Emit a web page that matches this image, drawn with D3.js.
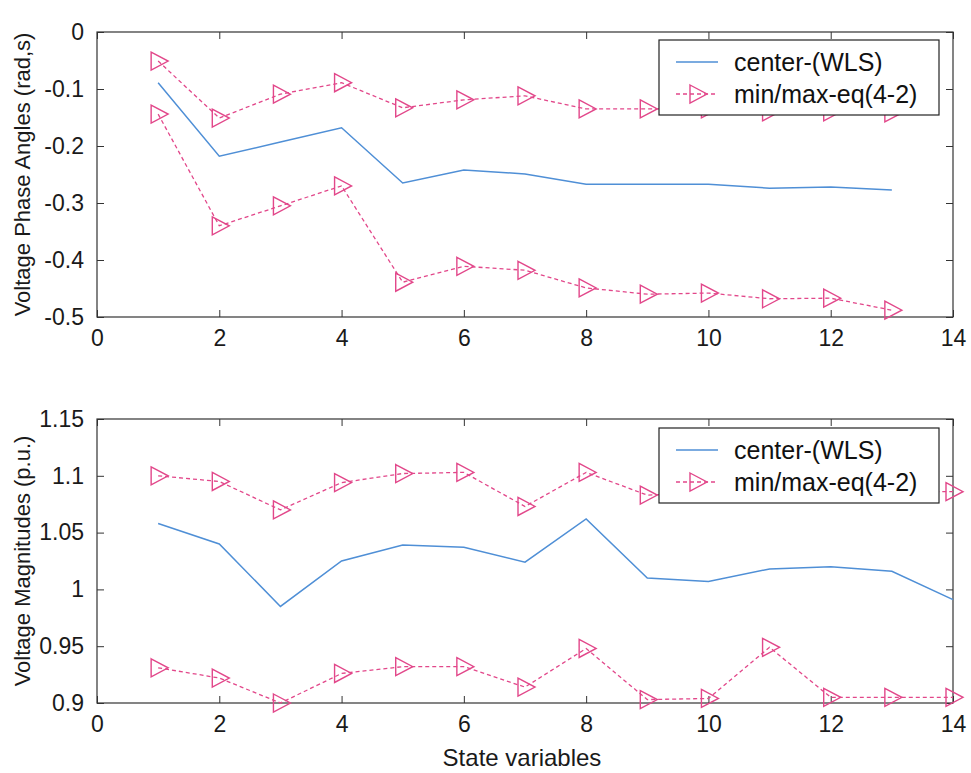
<!DOCTYPE html>
<html>
<head>
<meta charset="utf-8">
<script src="https://cdn.jsdelivr.net/npm/d3@7"></script>
<style>
  body { margin: 0; background: #fff; }
  svg { font-family: 'Liberation Sans', Arial, sans-serif; }
  .axis text { font-size: 23px; fill: #1a1a1a; }
  .axis line { stroke: #333; }
  .axis path { display: none; }
</style>
</head>
<body>
<div id="chart"></div>
<script>
'use strict'

// Top panel: phase angles (states 1..13)
const phaseX = [1, 2, 3, 4, 5, 6, 7, 8, 9, 10, 11, 12, 13]
const phaseCenter = [-0.089, -0.218, -0.193, -0.168, -0.265, -0.242, -0.249, -0.267, -0.267, -0.267, -0.274, -0.272, -0.277]
const phaseUpper = [-0.051, -0.151, -0.109, -0.089, -0.133, -0.119, -0.112, -0.135, -0.135, -0.135, -0.14, -0.14, -0.142]
const phaseLower = [-0.144, -0.34, -0.305, -0.27, -0.439, -0.411, -0.418, -0.449, -0.46, -0.458, -0.468, -0.467, -0.488]

// Bottom panel: magnitudes (states 1..14)
const magX = [1, 2, 3, 4, 5, 6, 7, 8, 9, 10, 11, 12, 13, 14]
const magCenter = [1.058, 1.04, 0.985, 1.025, 1.039, 1.037, 1.024, 1.062, 1.01, 1.007, 1.018, 1.02, 1.016, 0.991]
const magUpper = [1.1, 1.095, 1.07, 1.094, 1.102, 1.103, 1.073, 1.103, 1.083, 1.085, 1.085, 1.086, 1.086, 1.086]
const magLower = [0.931, 0.922, 0.9, 0.926, 0.932, 0.932, 0.914, 0.948, 0.903, 0.904, 0.949, 0.905, 0.905, 0.905]

const xTicks = [0, 2, 4, 6, 8, 10, 12, 14]
const phaseTicks = [0, -0.1, -0.2, -0.3, -0.4, -0.5]
const magTicks = [0.9, 0.95, 1, 1.05, 1.1, 1.15]
const legendLabels = ['center-(WLS)', 'min/max-eq(4-2)']

const blue = '#4f8fd6'
const pink = '#e2478a'

const width = 971
const height = 773

const svg = d3.select('#chart').append('svg')
  .attr('width', width)
  .attr('height', height)

function panel(opts) {
  const { top, bottom, left, right, xs, center, upper, lower, yDomain, yTicks, yFormat, yLabel, legendTop } = opts

  const xScale = d3.scaleLinear().domain([0, 14]).range([left, right])
  const yScale = d3.scaleLinear().domain(yDomain).range([bottom, top])

  const g = svg.append('g')

  // axes with inward ticks on all four sides
  g.append('g').attr('class', 'axis')
    .attr('transform', `translate(0,${bottom})`)
    .call(d3.axisBottom(xScale).tickValues(xTicks).tickSizeInner(-7).tickSizeOuter(0).tickPadding(13))
  g.append('g').attr('class', 'axis')
    .attr('transform', `translate(0,${top})`)
    .call(d3.axisTop(xScale).tickValues(xTicks).tickSizeInner(-7).tickSizeOuter(0).tickFormat(''))
  g.append('g').attr('class', 'axis')
    .attr('transform', `translate(${left},0)`)
    .call(d3.axisLeft(yScale).tickValues(yTicks).tickSizeInner(-7).tickSizeOuter(0).tickPadding(13).tickFormat(yFormat))
  g.append('g').attr('class', 'axis')
    .attr('transform', `translate(${right},0)`)
    .call(d3.axisRight(yScale).tickValues(yTicks).tickSizeInner(-7).tickSizeOuter(0).tickFormat(''))

  g.append('rect')
    .attr('x', left).attr('y', top)
    .attr('width', right - left).attr('height', bottom - top)
    .attr('fill', 'none').attr('stroke', '#333').attr('stroke-width', 1.2)

  const line = d3.line().x((d) => xScale(d[0])).y((d) => yScale(d[1]))

  g.append('path')
    .datum(xs.map((x, i) => [x, center[i]]))
    .attr('d', line)
    .attr('fill', 'none').attr('stroke', blue).attr('stroke-width', 1.5)

  const tri = 'M-8,-9L9,0L-8,9Z'
  ;[upper, lower].forEach((series) => {
    const pts = xs.map((x, i) => [x, series[i]])
    g.append('path')
      .datum(pts)
      .attr('d', line)
      .attr('fill', 'none').attr('stroke', pink).attr('stroke-width', 1.3)
      .attr('stroke-dasharray', '4,3')
    g.selectAll(null)
      .data(pts)
      .join('path')
      .attr('d', tri)
      .attr('transform', (d) => `translate(${xScale(d[0]) + 1},${yScale(d[1])})`)
      .attr('fill', 'none').attr('stroke', pink).attr('stroke-width', 1.4)
  })

  // y label
  g.append('text')
    .attr('transform', `translate(30,${(top + bottom) / 2}) rotate(-90)`)
    .attr('text-anchor', 'middle')
    .attr('font-size', 22)
    .attr('fill', '#1a1a1a')
    .text(yLabel)

  // legend
  const lg = g.append('g').attr('transform', `translate(659,${legendTop})`)
  lg.append('rect')
    .attr('width', 280).attr('height', 75)
    .attr('fill', '#fff').attr('stroke', '#222').attr('stroke-width', 1.2)
  lg.append('line')
    .attr('x1', 17).attr('x2', 59).attr('y1', 22).attr('y2', 22)
    .attr('stroke', blue).attr('stroke-width', 1.5)
  lg.append('line')
    .attr('x1', 17).attr('x2', 59).attr('y1', 54).attr('y2', 54)
    .attr('stroke', pink).attr('stroke-width', 1.3).attr('stroke-dasharray', '4,3')
  lg.append('path')
    .attr('d', tri)
    .attr('transform', 'translate(39,54)')
    .attr('fill', 'none').attr('stroke', pink).attr('stroke-width', 1.4)
  lg.selectAll('text.leg')
    .data(legendLabels)
    .join('text')
    .attr('class', 'leg')
    .attr('x', 75)
    .attr('y', (d, i) => 22 + i * 32)
    .attr('dy', '0.35em')
    .attr('font-size', 25)
    .attr('fill', '#111')
    .text((d) => d)
}

panel({
  top: 32, bottom: 317, left: 97, right: 953,
  xs: phaseX, center: phaseCenter, upper: phaseUpper, lower: phaseLower,
  yDomain: [-0.5, 0], yTicks: phaseTicks, yFormat: (d) => (d === 0 ? '0' : d.toFixed(1)),
  yLabel: 'Voltage Phase Angles (rad,s)', legendTop: 40
})

panel({
  top: 419, bottom: 703, left: 97, right: 953,
  xs: magX, center: magCenter, upper: magUpper, lower: magLower,
  yDomain: [0.9, 1.15], yTicks: magTicks, yFormat: (d) => String(+d.toFixed(2)),
  yLabel: 'Voltage Magnitudes (p.u.)', legendTop: 428
})

svg.append('text')
  .attr('x', 522)
  .attr('y', 766)
  .attr('text-anchor', 'middle')
  .attr('font-size', 24)
  .attr('fill', '#1a1a1a')
  .text('State variables')
</script>
</body>
</html>
